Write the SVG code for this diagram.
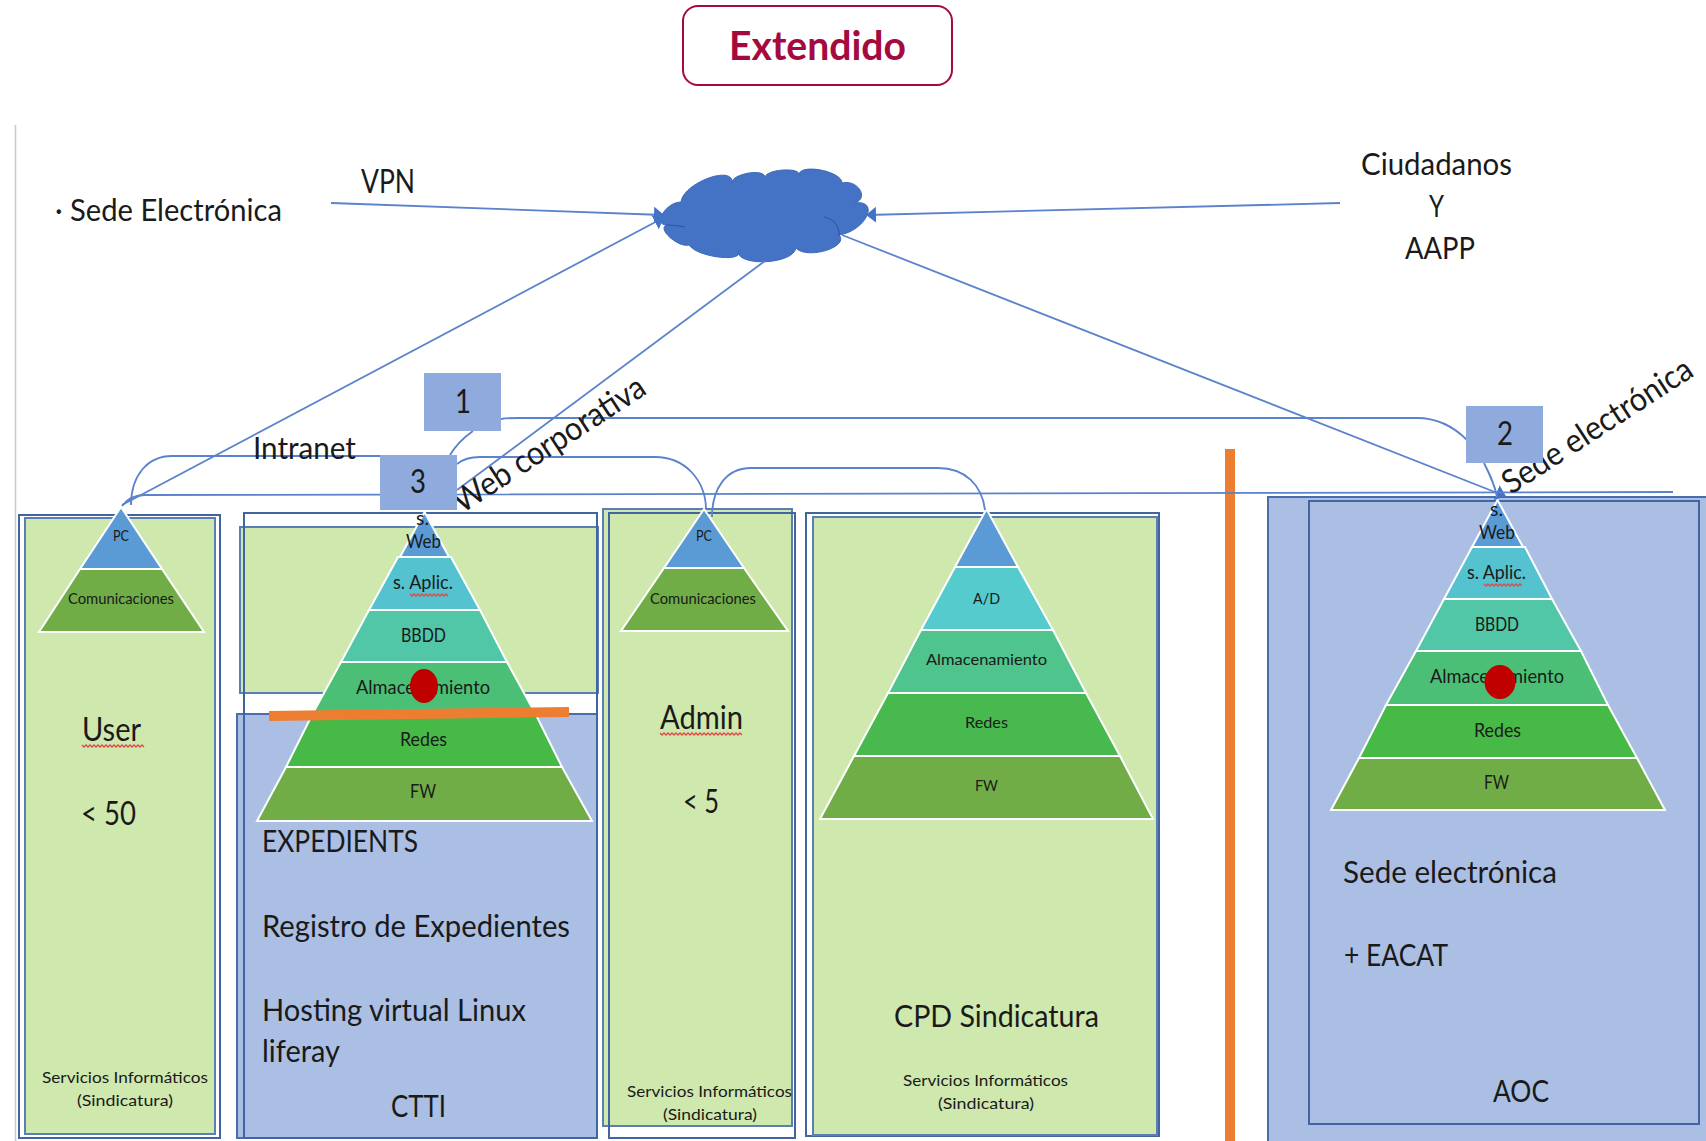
<svg xmlns="http://www.w3.org/2000/svg" width="1706" height="1141" viewBox="0 0 1706 1141">
<style>
text{font-family:"Lato","Open Sans","Liberation Sans",sans-serif;fill:#1a1a1a}
.xl{font-size:32px}.lg{font-size:31px}.rot{font-size:33px}.md{font-size:19px}.sm{font-size:16px}.xs{font-size:15px}
.green{fill:#CFE8AE;stroke:#5B7FB5;stroke-width:2}
.blue{fill:#ABBFE4;stroke:#4A6CA8;stroke-width:2}
.out{fill:none;stroke:#41659F;stroke-width:2}
.t{stroke:#fff;stroke-width:2}
.c{fill:none;stroke:#5B82CC;stroke-width:1.8}
.box{fill:#8FAADC}
.sq{fill:none;stroke:#E0484C;stroke-width:1.3}
.dot{fill:#C00000}
</style>
<defs>
<marker id="a" markerUnits="userSpaceOnUse" markerWidth="10" markerHeight="16" refX="9" refY="8" orient="auto"><path d="M0,0L10,8L0,16z" fill="#4472C4"/></marker>
</defs>
<rect width="1706" height="1141" fill="#fff"/>
<line x1="15.5" y1="125" x2="15.5" y2="1141" stroke="#C8C8C8" stroke-width="1.5"/>
<g id="title"><rect x="683" y="6" width="269" height="79" rx="15" fill="#fff" stroke="#A50A3F" stroke-width="2"/>
<text x="729" y="60" style="font-size:40px;font-weight:700;fill:#A50A3F" textLength="177" lengthAdjust="spacingAndGlyphs">Extendido</text></g>
<g id="cloud"><path d="M681,202C683,183 734,164 732,183C731,174 764,168 765,177C767,169 801,167 799,175C799,163 842,171 842,183C858,179 870,199 854,203C881,199 866,231 839,235C850,247 807,260 796,248C793,265 735,267 738,250C747,263 698,258 689,245C678,248 656,228 667,225C652,225 666,202 681,202Z" fill="#4472C4" stroke="#3F69B5" stroke-width="1"/>
<path d="M824,217C835,219 840,228 839,236M667,225Q675,225 685,227" fill="none" stroke="#2F5597" stroke-width="1"/></g>
<g id="node-user"><rect class="out" x="19" y="515" width="201" height="623"/><rect class="green" x="25" y="518" width="190" height="616"/>
<polygon points="121,507 162,569 80,569" class="t" fill="#5B9BD5"/><polygon points="80,569 162,569 204,632 39,632" class="t" fill="#70AD47"/>
<text class="xs" x="113" y="541" textLength="16" lengthAdjust="spacingAndGlyphs">PC</text>
<text class="sm" x="68" y="604" textLength="106" lengthAdjust="spacingAndGlyphs">Comunicaciones</text>
<text class="xl" x="82" y="741" textLength="59" lengthAdjust="spacingAndGlyphs">User</text>
<path class="sq" d="M82,745l2,2l2,-2l2,2l2,-2l2,2l2,-2l2,2l2,-2l2,2l2,-2l2,2l2,-2l2,2l2,-2l2,2l2,-2l2,2l2,-2l2,2l2,-2l2,2l2,-2l2,2l2,-2l2,2l2,-2l2,2l2,-2l2,2l2,-2l2,2"/>
<text class="xl" x="81" y="825" textLength="55" lengthAdjust="spacingAndGlyphs">&lt; 50</text>
<text class="sm" x="42" y="1083" textLength="166" lengthAdjust="spacingAndGlyphs">Servicios Informáticos</text>
<text class="sm" x="77" y="1106" textLength="96" lengthAdjust="spacingAndGlyphs">(Sindicatura)</text></g>
<g id="node-ctti"><rect class="green" x="240" y="527" width="358" height="166"/><rect class="blue" x="237" y="714" width="360" height="424"/><rect class="out" x="244" y="513" width="353" height="625"/>
<polygon points="424.5,512 449,557 400,557" class="t" fill="#5B9BD5"/><polygon points="398,557 451,557 480,610 369,610" class="t" fill="#55C2CF"/><polygon points="369,610 480,610 507,662 341,662" class="t" fill="#51C7A8"/><polygon points="341,662 507,662 535,713 313,713" class="t" fill="#4BBF75"/><polygon points="313,713 535,713 562,767 286,767" class="t" fill="#47B947"/><polygon points="286,767 562,767 592,821 257,821" class="t" fill="#70AD47"/>
<text class="md" x="416" y="525" textLength="13" lengthAdjust="spacingAndGlyphs">s.</text>
<text class="md" x="406" y="548" textLength="35" lengthAdjust="spacingAndGlyphs">Web</text>
<text class="md" x="393" y="589" textLength="60" lengthAdjust="spacingAndGlyphs">s. Aplic.</text>
<path class="sq" d="M410,594l2,2l2,-2l2,2l2,-2l2,2l2,-2l2,2l2,-2l2,2l2,-2l2,2l2,-2l2,2l2,-2l2,2l2,-2l2,2l2,-2l2,2"/>
<text class="md" x="401" y="642" textLength="45" lengthAdjust="spacingAndGlyphs">BBDD</text>
<text class="md" x="356" y="694" textLength="134" lengthAdjust="spacingAndGlyphs">Almacenamiento</text>
<text class="md" x="400" y="746" textLength="47" lengthAdjust="spacingAndGlyphs">Redes</text>
<text class="md" x="410" y="798" textLength="26" lengthAdjust="spacingAndGlyphs">FW</text>
<ellipse class="dot" cx="424" cy="686" rx="14" ry="17"/>
<polygon points="269,711 569,707 569,717 269,721" fill="#ED7D31"/>
<text class="lg" x="262" y="852" textLength="156" lengthAdjust="spacingAndGlyphs">EXPEDIENTS</text>
<text class="lg" x="262" y="937" textLength="308" lengthAdjust="spacingAndGlyphs">Registro de Expedientes</text>
<text class="lg" x="262" y="1021" textLength="264" lengthAdjust="spacingAndGlyphs">Hosting virtual Linux</text>
<text class="lg" x="262" y="1062" textLength="78" lengthAdjust="spacingAndGlyphs">liferay</text>
<text class="lg" x="391" y="1117" textLength="55" lengthAdjust="spacingAndGlyphs">CTTI</text></g>
<g id="node-admin"><rect class="green" x="603" y="509" width="189" height="617"/><rect class="out" x="609" y="513" width="186" height="625"/>
<polygon points="704,509 744,568 664,568" class="t" fill="#5B9BD5"/><polygon points="664,568 744,568 788,631 621,631" class="t" fill="#70AD47"/>
<text class="xs" x="696" y="541" textLength="16" lengthAdjust="spacingAndGlyphs">PC</text>
<text class="sm" x="650" y="604" textLength="106" lengthAdjust="spacingAndGlyphs">Comunicaciones</text>
<text class="xl" x="660" y="729" textLength="83" lengthAdjust="spacingAndGlyphs">Admin</text>
<path class="sq" d="M660,733l2,2l2,-2l2,2l2,-2l2,2l2,-2l2,2l2,-2l2,2l2,-2l2,2l2,-2l2,2l2,-2l2,2l2,-2l2,2l2,-2l2,2l2,-2l2,2l2,-2l2,2l2,-2l2,2l2,-2l2,2l2,-2l2,2l2,-2l2,2l2,-2l2,2l2,-2l2,2l2,-2l2,2l2,-2l2,2l2,-2l2,2"/>
<text class="xl" x="683" y="813" textLength="36" lengthAdjust="spacingAndGlyphs">&lt; 5</text>
<text class="sm" x="627" y="1097" textLength="165" lengthAdjust="spacingAndGlyphs">Servicios Informáticos</text>
<text class="sm" x="663" y="1120" textLength="94" lengthAdjust="spacingAndGlyphs">(Sindicatura)</text></g>
<g id="node-cpd"><rect class="out" x="806" y="513" width="353" height="623"/><rect class="green" x="813" y="517" width="344" height="618"/>
<polygon points="986.5,509 1018,567 955,567" class="t" fill="#5B9BD5"/><polygon points="955,567 1018,567 1053,630 921,630" class="t" fill="#55CBCD"/><polygon points="921,630 1053,630 1086,693 888,693" class="t" fill="#4FC48C"/><polygon points="888,693 1086,693 1120,756 854,756" class="t" fill="#47B94E"/><polygon points="854,756 1120,756 1153,819 820,819" class="t" fill="#70AD47"/>
<text class="sm" x="973" y="604" textLength="27" lengthAdjust="spacingAndGlyphs">A/D</text>
<text class="sm" x="926" y="665" textLength="121" lengthAdjust="spacingAndGlyphs">Almacenamiento</text>
<text class="sm" x="965" y="728" textLength="43" lengthAdjust="spacingAndGlyphs">Redes</text>
<text class="sm" x="975" y="791" textLength="23" lengthAdjust="spacingAndGlyphs">FW</text>
<text class="lg" x="894" y="1027" textLength="205" lengthAdjust="spacingAndGlyphs">CPD Sindicatura</text>
<text class="sm" x="903" y="1086" textLength="165" lengthAdjust="spacingAndGlyphs">Servicios Informáticos</text>
<text class="sm" x="938" y="1109" textLength="96" lengthAdjust="spacingAndGlyphs">(Sindicatura)</text></g>
<rect id="divider" x="1225" y="449" width="10" height="692" fill="#ED7D31"/>
<g id="node-aoc"><rect class="blue" x="1268" y="497" width="440" height="646"/><rect class="out" x="1309" y="501" width="390" height="623"/>
<polygon points="1497.5,500 1523,547 1472,547" class="t" fill="#5B9BD5"/><polygon points="1472,547 1525,547 1552,599 1444,599" class="t" fill="#55C2CF"/><polygon points="1444,599 1552,599 1581,651 1416,651" class="t" fill="#51C7A8"/><polygon points="1416,651 1581,651 1608,705 1386,705" class="t" fill="#4BBF75"/><polygon points="1386,705 1608,705 1637,758 1359,758" class="t" fill="#47B947"/><polygon points="1359,758 1637,758 1665,810 1331,810" class="t" fill="#70AD47"/>
<text class="md" x="1490" y="516" textLength="13" lengthAdjust="spacingAndGlyphs">s.</text>
<text class="md" x="1479" y="539" textLength="36" lengthAdjust="spacingAndGlyphs">Web</text>
<text class="md" x="1467" y="579" textLength="59" lengthAdjust="spacingAndGlyphs">s. Aplic.</text>
<path class="sq" d="M1484,584l2,2l2,-2l2,2l2,-2l2,2l2,-2l2,2l2,-2l2,2l2,-2l2,2l2,-2l2,2l2,-2l2,2l2,-2l2,2l2,-2l2,2"/>
<text class="md" x="1475" y="631" textLength="44" lengthAdjust="spacingAndGlyphs">BBDD</text>
<text class="md" x="1430" y="683" textLength="134" lengthAdjust="spacingAndGlyphs">Almacenamiento</text>
<text class="md" x="1474" y="737" textLength="47" lengthAdjust="spacingAndGlyphs">Redes</text>
<text class="md" x="1484" y="789" textLength="25" lengthAdjust="spacingAndGlyphs">FW</text>
<ellipse class="dot" cx="1500" cy="682" rx="15.5" ry="17"/>
<text class="lg" x="1343" y="883" textLength="214" lengthAdjust="spacingAndGlyphs">Sede electrónica</text>
<text class="lg" x="1344" y="966" textLength="104" lengthAdjust="spacingAndGlyphs">+ EACAT</text>
<text class="lg" x="1493" y="1102" textLength="56" lengthAdjust="spacingAndGlyphs">AOC</text></g>
<g id="connectors">
<path class="c" d="M331,203L663,215" marker-end="url(#a)"/>
<path class="c" d="M1340,203L867,215" marker-end="url(#a)"/>
<path class="c" d="M122,505L663,218" marker-end="url(#a)"/>
<path class="c" d="M457,490L765,261"/>
<path class="c" d="M842,235L1505,496" marker-end="url(#a)"/>
<path class="c" d="M122,506Q130,495 145,495L1673,492"/>
<path class="c" d="M380,456L172,456C148,456 131,475 131,505"/>
<path class="c" d="M457,464C463,459 470,457 480,457L655,457C685,457 705,480 706,508"/>
<path class="c" d="M712,517C712,490 725,468 751,468L938,468C965,468 982,485 985,510"/>
<path class="c" d="M501,419C506,418 512,418 518,418L1417,418C1440,418 1455,428 1467,440"/>
<path class="c" d="M473,431C463,438 456,445 450,455"/>
<path class="c" d="M1484,463C1490,475 1495,485 1497,497"/>
</g>
<g id="labels">
<text class="lg" x="55" y="221" textLength="227" lengthAdjust="spacingAndGlyphs">· Sede Electrónica</text>
<text class="xl" x="361" y="193" textLength="54" lengthAdjust="spacingAndGlyphs">VPN</text>
<text class="lg" x="1361" y="175" textLength="151" lengthAdjust="spacingAndGlyphs">Ciudadanos</text>
<text class="lg" x="1429" y="217" textLength="15" lengthAdjust="spacingAndGlyphs">Y</text>
<text class="lg" x="1405" y="259" textLength="70" lengthAdjust="spacingAndGlyphs">AAPP</text>
<text class="lg" x="253" y="459" textLength="103" lengthAdjust="spacingAndGlyphs">Intranet</text>
<text class="rot" transform="translate(462,514) rotate(-33)" textLength="222" lengthAdjust="spacingAndGlyphs">Web corporativa</text>
<text class="rot" transform="translate(1511,495) rotate(-33)" textLength="220" lengthAdjust="spacingAndGlyphs">Sede electrónica</text>
</g>
<g id="node-1"><rect class="box" x="424" y="373" width="77" height="58"/><text class="xl" x="455" y="413" textLength="16" lengthAdjust="spacingAndGlyphs">1</text></g>
<g id="node-2"><rect class="box" x="1466" y="406" width="77" height="57"/><text class="xl" x="1497" y="445" textLength="16" lengthAdjust="spacingAndGlyphs">2</text></g>
<g id="node-3"><rect class="box" x="380" y="455" width="77" height="55"/><text class="xl" x="410" y="493" textLength="16" lengthAdjust="spacingAndGlyphs">3</text></g>
</svg>
